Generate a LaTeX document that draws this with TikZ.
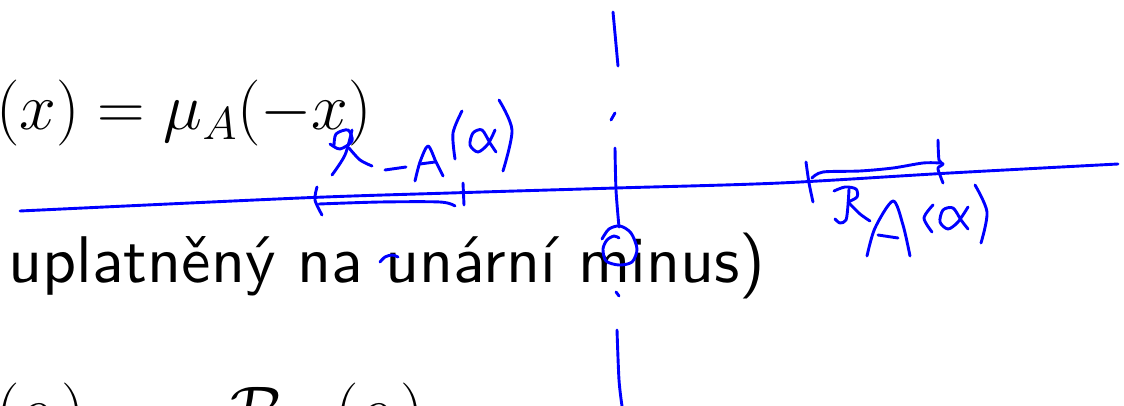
\RequirePackage{fix-cm}
\documentclass[tikz,border=0pt]{standalone}
\usepackage{fontspec}
\setsansfont{lmsans10-regular.otf}
\begin{document}
\begin{tikzpicture}[x=1pt,y=-1pt,
  pen/.style={draw=blue, line width=2.9pt, line cap=round, line join=round},
  big/.style={anchor=base west, inner sep=0pt, font=\fontsize{66}{79}\selectfont},
  bigsans/.style={anchor=base west, inner sep=0pt, font=\sffamily\fontsize{66}{79}\selectfont}]
\useasboundingbox (0,0) rectangle (1124,406);
\clip (0,0) rectangle (1124,406);
% slide text
\node[big] (eqa) at (-4,130) {$(x) = \mu_A(-x)$};
\node[bigsans] (txt) at (8,282) {uplatněný na unární minus)};
\node[big] (eqb) at (-4,432) {$(\alpha) = -\mkern3mu\mathcal{R}_A\mkern4mu(\alpha)$};
% axis
\draw[pen] plot[smooth] coordinates {(20,211) (300,198) (450,193) (616,188) (780,183) (950,173) (1118,164)};
% vertical dashed axis
\draw[pen] (613,12) -- (618,66);
\draw[pen] (615,113) -- (611,120);
\draw[pen] plot[smooth] coordinates {(615,148) (616,190) (619,227)};
\draw[pen] plot[smooth] coordinates {(602,239) (609,229) (620,226) (631,233) (637,249) (632,262) (619,265) (606,261) (603,249) (607,240) (614,236) (619,238)};
\draw[pen] (616,292) -- (619,296);
\draw[pen] plot[smooth] coordinates {(617,330) (619,380) (622,406)};
% left interval R_{-A}(alpha)
\draw[pen] plot[smooth] coordinates {(317,187) (315,200) (322,215)};
\draw[pen] plot[smooth] coordinates {(319,204) (380,202) (440,202) (455,206)};
\draw[pen] (463,183) -- (464,205);
% R
\draw[pen] plot[smooth] coordinates {(334,146) (336,134) (348,130) (352,141) (340,149) (330,144)};
\draw[pen] plot[smooth] coordinates {(352,130) (345,155) (332,175)};
\draw[pen] plot[smooth] coordinates {(349,148) (360,160) (372,166)};
% -A
\draw[pen] (385,170) -- (406,167);
\draw[pen] plot[smooth] coordinates {(415,181) (420,162) (428,146) (436,162) (443,176)};
\draw[pen] (420,164) -- (435,162);
% (alpha)
\draw[pen] plot[smooth] coordinates {(462,111) (453,133) (455,159)};
\draw[pen] plot[smooth] coordinates {(495,130) (488,144) (478,152) (470,145) (473,133) (482,130) (490,143) (496,152)};
\draw[pen] plot[smooth] coordinates {(499,100) (512,130) (503,171)};
% right interval R_A(alpha)
\draw[pen] plot[smooth] coordinates {(806,162) (809,183) (813,202)};
\draw[pen] plot[smooth] coordinates {(812,178) (823,172) (860,171) (893,168) (923,163) (940,163)};
\draw[pen] plot[smooth] coordinates {(938,140) (939,160) (943,164) (938,168) (940,175) (943,183)};
% R
\draw[pen] plot[smooth] coordinates {(834,191) (845,187) (856,189) (857,197) (848,202)};
\draw[pen] plot[smooth] coordinates {(849,189) (848,205) (846,220) (840,223) (835,219)};
\draw[pen] plot[smooth] coordinates {(849,203) (860,214) (870,221)};
% A
\draw[pen] plot[smooth] coordinates {(867,256) (875,228) (893,201) (903,225) (910,256)};
\draw[pen] (878,235) -- (898,238);
% (alpha)
\draw[pen] plot[smooth] coordinates {(933,205) (924,218) (932,232)};
\draw[pen] plot[smooth] coordinates {(968,207) (958,222) (948,229) (940,222) (943,210) (953,208) (961,220) (968,229)};
\draw[pen] plot[smooth] coordinates {(975,185) (987,212) (981,243)};
% small mark
\draw[pen] plot[smooth] coordinates {(380,262) (385,257) (392,255) (398,257)};
\end{tikzpicture}
\end{document}
